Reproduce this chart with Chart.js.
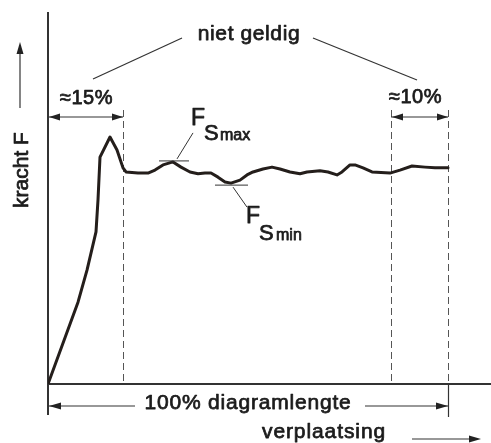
<!DOCTYPE html>
<html>
<head>
<meta charset="utf-8">
<script src="https://cdn.jsdelivr.net/npm/chart.js@4.4.1/dist/chart.umd.min.js"></script>
<style>
html,body{margin:0;padding:0;background:#fff;}
#wrap{width:491px;height:443px;position:relative;}
</style>
</head>
<body>
<div id="wrap"><canvas id="c" width="491" height="443"></canvas></div>
<script>
// displacement (% of diagram length) and force (relative units)
const displacement = [0, 7.5, 9.75, 12.0, 12.5, 13.0, 15.5, 17.25, 18.75, 19.5, 22.5, 25.0, 26.75, 28.75, 31.25, 33.25, 35.5, 37.5, 39.25, 40.75, 42.5, 44.25, 45.75, 48.0, 49.75, 51.25, 53.75, 56.0, 58.0, 60.5, 63.0, 64.75, 68.0, 70.0, 72.25, 73.5, 75.5, 76.75, 78.75, 81.0, 85.5, 88.0, 91.0, 94.25, 96.75, 100];
const force = [0, 22.0, 30.6, 40.9, 49.5, 61.0, 66.4, 62.9, 58.1, 57.0, 56.7, 56.7, 57.5, 58.9, 59.7, 58.3, 57.0, 56.5, 56.7, 56.7, 55.6, 54.3, 54.0, 54.8, 56.2, 57.0, 57.8, 58.3, 57.8, 57.0, 56.5, 57.0, 57.3, 57.0, 56.2, 57.0, 58.9, 58.9, 58.1, 57.0, 56.7, 57.5, 58.6, 58.3, 58.1, 58.1];
// zone boundaries (% of diagram length)
const startZoneEnd = 18.75;
const endZoneStart = 85.75;
const diagramEnd = 100;
// marked extremes
const fsMax = {x: 31.25, y: 59.7};
const fsMin = {x: 45.75, y: 54.0};
const labels = {
  invalid: "niet geldig",
  startPct: "≈15%",
  endPct: "≈10%",
  length: "100% diagramlengte",
  xTitle: "verplaatsing",
  yTitle: "kracht F"
};

const FONT = '"Liberation Sans", Arial, Helvetica, sans-serif';
const INK = '#1c1c1c';

function arrowHead(ctx, x, y, dx, dy, len, hw) {
  const px = -dy, py = dx;
  ctx.beginPath();
  ctx.moveTo(x, y);
  ctx.lineTo(x - dx*len + px*hw, y - dy*len + py*hw);
  ctx.lineTo(x - dx*len - px*hw, y - dy*len - py*hw);
  ctx.closePath();
  ctx.fill();
}
function line(ctx, x1, y1, x2, y2) {
  ctx.beginPath(); ctx.moveTo(x1, y1); ctx.lineTo(x2, y2); ctx.stroke();
}
function text(ctx, s, x, y, size, align, spacing) {
  ctx.save();
  ctx.font = size + 'px ' + FONT;
  ctx.textAlign = align || 'left';
  ctx.textBaseline = 'alphabetic';
  try { ctx.letterSpacing = (spacing || 0) + 'px'; } catch (e) {}
  ctx.fillStyle = INK;
  ctx.strokeStyle = INK;
  ctx.lineWidth = 0.75;
  ctx.lineJoin = 'round';
  ctx.fillText(s, x, y);
  ctx.strokeText(s, x, y);
  ctx.restore();
}

const decor = {
  id: 'decor',
  beforeDatasetsDraw(chart) {
    const {ctx, chartArea: a, scales: {x, y}} = chart;
    ctx.save();
    ctx.strokeStyle = '#333';
    ctx.lineWidth = 2;
    // axes
    line(ctx, a.left, a.top, a.left, 415);
    line(ctx, a.left, a.bottom, a.right, a.bottom);
    // dashed boundaries
    ctx.strokeStyle = '#555';
    ctx.lineWidth = 1;
    ctx.setLineDash([7, 4]);
    [startZoneEnd, endZoneStart, diagramEnd].forEach(v => {
      const px = Math.round(x.getPixelForValue(v)) + 0.5;
      line(ctx, px, 110, px, a.bottom);
    });
    ctx.setLineDash([]);
    ctx.restore();
  },
  afterDraw(chart) {
    const {ctx, chartArea: a, scales: {x, y}} = chart;
    ctx.save();
    ctx.fillStyle = '#222';
    ctx.strokeStyle = '#333';
    ctx.lineWidth = 1.2;
    const x0 = a.left;
    const xs = x.getPixelForValue(startZoneEnd);
    const xe = x.getPixelForValue(endZoneStart);
    const xd = x.getPixelForValue(diagramEnd);

    // top dimension lines
    const dy = 117;
    line(ctx, x0, dy, xs, dy);
    arrowHead(ctx, x0 + 1, dy, -1, 0, 11, 3.5);
    arrowHead(ctx, xs, dy, 1, 0, 11, 3.5);
    line(ctx, xe, dy, xd, dy);
    arrowHead(ctx, xe + 1, dy, -1, 0, 11, 3.5);
    arrowHead(ctx, xd, dy, 1, 0, 11, 3.5);
    text(ctx, labels.startPct, (x0 + xs) / 2 + 1, 104, 20, 'center', 0.5);
    text(ctx, labels.endPct, (xe + xd) / 2 - 4, 103, 20, 'center', 0.5);

    // niet geldig + leaders
    text(ctx, labels.invalid, 249, 40, 21, 'center', 0.6);
    line(ctx, 182, 38, 93, 79);
    line(ctx, 313, 38, 417, 80);

    // bottom dimension
    const by = 406;
    line(ctx, x0, by, 135, by);
    arrowHead(ctx, x0 + 1, by, -1, 0, 12, 3.5);
    line(ctx, 365, by, xd, by);
    arrowHead(ctx, xd, by, 1, 0, 12, 3.5);
    ctx.lineWidth = 1.2;
    line(ctx, Math.round(xd) + 0.5, a.bottom, Math.round(xd) + 0.5, 417);
    text(ctx, labels.length, 248, 409, 21, 'center', 0.8);

    // x title + arrow
    text(ctx, labels.xTitle, 262, 438, 21, 'left', 0.9);
    line(ctx, 412, 439, 472, 439);
    arrowHead(ctx, 481, 439, 1, 0, 12, 3.5);

    // y title + arrow
    ctx.save();
    ctx.translate(28, 170);
    ctx.rotate(-Math.PI / 2);
    text(ctx, labels.yTitle, 0, 0, 21, 'center', 0);
    ctx.restore();
    line(ctx, 20, 108, 20, 50);
    arrowHead(ctx, 20, 42, 0, -1, 12, 3.5);

    // FS max
    const mx = x.getPixelForValue(fsMax.x), my = y.getPixelForValue(fsMax.y);
    ctx.lineWidth = 1;
    line(ctx, mx - 14, my - 1, mx + 16, my - 1);
    line(ctx, mx + 4, my - 3, mx + 20, my - 29);
    text(ctx, 'F', 191, 125, 23, 'left', 0);
    text(ctx, 'S', 204, 140, 22, 'left', 0);
    text(ctx, 'max', 220, 140, 16, 'left', 0);

    // FS min
    const nx = x.getPixelForValue(fsMin.x), ny = y.getPixelForValue(fsMin.y);
    line(ctx, nx - 16, ny + 2, nx + 17, ny + 2);
    line(ctx, nx + 2, ny + 4, nx + 16, ny + 24);
    text(ctx, 'F', 246, 223, 23, 'left', 0);
    text(ctx, 'S', 259, 240, 22, 'left', 0);
    text(ctx, 'min', 276, 240, 16, 'left', 0);
    ctx.restore();
  }
};

new Chart(document.getElementById('c'), {
  type: 'line',
  data: {
    datasets: [{
      data: displacement.map((d, i) => ({x: d, y: force[i]})),
      borderColor: '#241e1b',
      borderWidth: 3,
      pointRadius: 0,
      tension: 0,
      borderJoinStyle: 'round',
      borderCapStyle: 'round',
      fill: false
    }]
  },
  options: {
    responsive: false,
    animation: false,
    events: [],
    layout: {padding: {left: 48, right: 0, top: 12, bottom: 59}},
    plugins: {legend: {display: false}, tooltip: {enabled: false}, title: {display: false}},
    scales: {
      x: {type: 'linear', min: 0, max: 110.75, display: false},
      y: {type: 'linear', min: 0, max: 100, display: false}
    }
  },
  plugins: [decor]
});
</script>
</body>
</html>
